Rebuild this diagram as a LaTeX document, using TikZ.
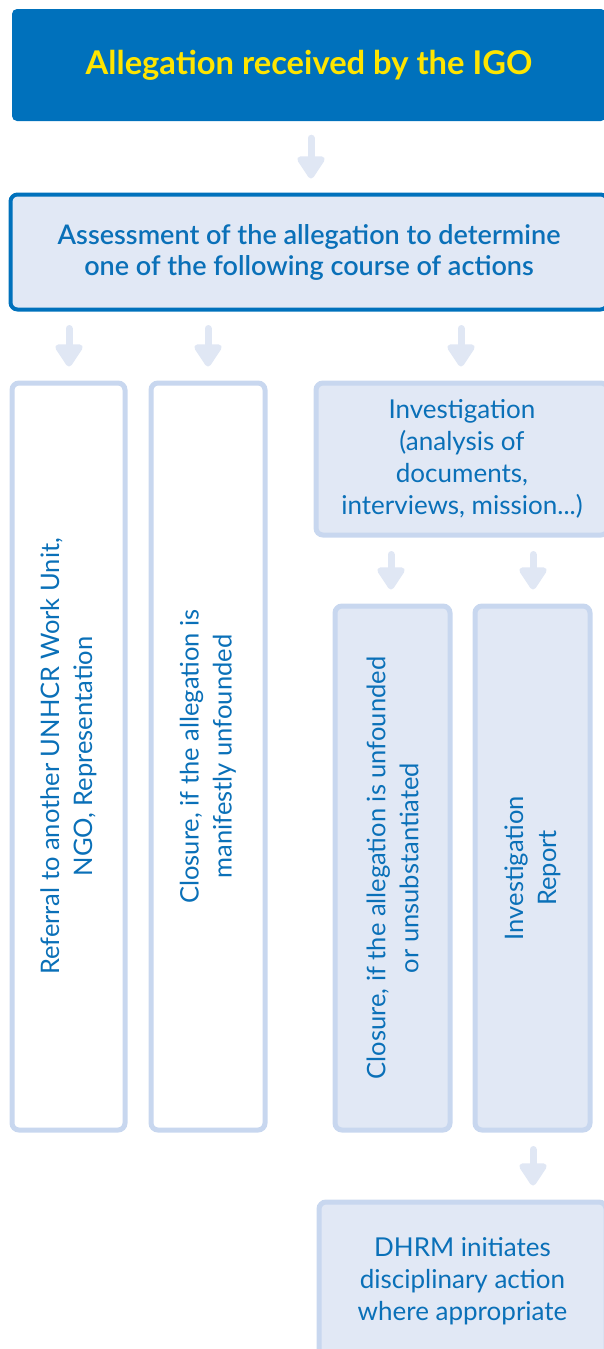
\documentclass[tikz,border=0pt]{standalone}
\usepackage{fontspec}
\setmainfont{Lato}
\newfontfamily\semib{Lato Semibold}
\usetikzlibrary{arrows.meta}
\definecolor{unblue}{HTML}{0071BC}
\definecolor{txtblue}{HTML}{0A70B8}
\definecolor{igoyellow}{HTML}{FFE500}
\definecolor{lightfill}{HTML}{E1E8F5}
\definecolor{lightline}{HTML}{C8D7EF}
\definecolor{arrowcol}{HTML}{E0E7F4}
\tikzset{
  boxbase/.style={draw=lightline, line width=5pt, rounded corners=7pt, inner sep=0pt, align=center, text=txtblue, font=\fontsize{26}{32}\selectfont},
  lightbox/.style={boxbase, fill=lightfill},
  whitebox/.style={boxbase, fill=white},
  rottext/.style={rotate=90, align=center, text=txtblue, font=\fontsize{25.5}{33}\selectfont, inner sep=0pt},
  flowarrow/.style={draw=arrowcol, line width=7pt, line cap=round, -{Triangle[width=31pt,length=25pt,round]}, shorten <=17pt, shorten >=14pt}
}
\begin{document}
\begin{tikzpicture}[x=1pt,y=-1pt]
\useasboundingbox (0,0) rectangle (604,1349);
% top box
\node[fill=unblue, rounded corners=5pt, minimum width=594pt, minimum height=112pt, inner sep=0pt, text=igoyellow, font=\fontsize{32.7}{36}\selectfont\bfseries] (top) at (309,65) {Allegation received by the IGO};
% assessment
\node[boxbase, fill=lightfill, draw=unblue, line width=4pt, minimum width=597pt, minimum height=115pt, font=\fontsize{27}{31}\semib] (assess) at (309,252) {Assessment of the allegation to determine\\one of the following course of actions};
% columns
\node[whitebox, minimum width=113pt, minimum height=747pt] (ref) at (68.5,756.5) {};
\node[rottext] (refT) at (ref) {Referral to another UNHCR Work Unit,\\NGO, Representation};
\node[whitebox, minimum width=114pt, minimum height=747pt] (clo) at (208,756.5) {};
\node[rottext] (cloT) at (clo) {Closure, if the allegation is\\manifestly unfounded};
\node[lightbox, minimum width=292pt, minimum height=152pt] (inv) at (462,459) {Investigation\\(analysis of\\documents,\\interviews, mission...)};
\node[lightbox, minimum width=115pt, minimum height=524pt] (clo2) at (392.5,868) {};
\node[rottext] (clo2T) at (clo2) {Closure, if the allegation is unfounded\\or unsubstantiated};
\node[lightbox, minimum width=115pt, minimum height=524pt] (rep) at (532.5,868) {};
\node[rottext] (repT) at (rep) {Investigation\\Report};
\node[lightbox, minimum width=287pt, minimum height=158pt] (dhrm) at (462.5,1281) {DHRM initiates\\disciplinary action\\where appropriate};
% arrow x positions
\coordinate (a1) at (311,0);
\coordinate (a2) at (69,0);
\coordinate (a3) at (208,0);
\coordinate (a4) at (461,0);
\coordinate (a5) at (391,0);
\coordinate (a6) at (533,0);
\draw[flowarrow] (top.south -| a1) -- (assess.north -| a1);
\draw[flowarrow] (assess.south -| a2) -- (ref.north -| a2);
\draw[flowarrow] (assess.south -| a3) -- (clo.north -| a3);
\draw[flowarrow] (assess.south -| a4) -- (inv.north -| a4);
\draw[flowarrow] (inv.south -| a5) -- (clo2.north -| a5);
\draw[flowarrow] (inv.south -| a6) -- (rep.north -| a6);
\draw[flowarrow] (rep.south -| a6) -- (dhrm.north -| a6);
\end{tikzpicture}
\end{document}
